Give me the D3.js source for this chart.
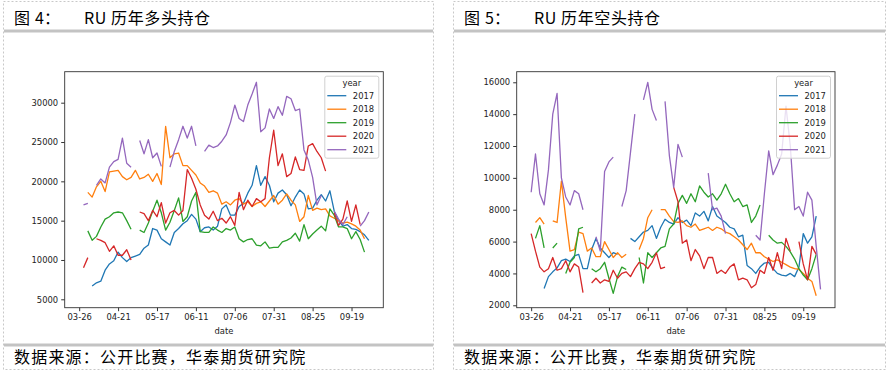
<!DOCTYPE html>
<html>
<head>
<meta charset="utf-8">
<script src="https://cdn.jsdelivr.net/npm/d3@7"></script>
<style>
  body { margin: 0; background: #fff; }
  text { font-family: "DejaVu Sans", sans-serif; }
  .cn { font-family: "Noto Sans CJK SC", sans-serif; }
</style>
</head>
<body>
<div id="viz"></div>
<script>
// x axis: trading-day categories, one sampled value every 2 categories
var tickLabels = ["03-26", "04-21", "05-17", "06-11", "07-06", "07-31", "08-25", "09-19"];
var tickIndex = [0, 18, 36, 54, 72, 90, 108, 126];
var step = 2;
var years = ["2017", "2018", "2019", "2020", "2021"];

// long positions (figure 4)
var longTicks = [5000, 10000, 15000, 20000, 25000, 30000];
var long2017 = [null,null,null,6700,7100,7300,8700,9500,9900,11000,
  10300,9800,10300,10500,10700,11500,11900,14000,13800,12700,
  12300,11900,13500,14000,14600,15000,15800,15200,13600,14100,
  14200,13800,14300,16500,17000,15700,15700,16800,17200,18500,
  19500,22000,19500,20600,19500,17400,18500,18900,18300,16900,
  18000,18900,18400,16500,16600,17600,18300,17500,18800,16200,
  15000,14300,14500,14000,13900,13600,13200,12500];
var long2018 = [null,null,18600,18000,19300,20000,18700,21200,21300,21400,
  20600,20200,20500,21400,20300,20500,20900,20000,21000,19600,
  27000,23000,23500,23600,22000,22000,21400,20800,19800,19400,
  18600,18800,18500,17100,17400,17000,17600,17800,17100,17400,
  16800,17200,17400,16800,17500,18200,17100,17600,18400,17600,
  17000,14900,15500,18200,16300,16600,16400,16500,15600,15300,
  15000,14700,14800,14600,14300,13800,12700,null];
var long2019 = [null,null,13700,12500,13000,14200,15200,15500,16000,16100,
  16000,15000,13900,null,13800,13500,14700,16200,17600,16000,
  13800,14800,16300,17900,14900,15500,17500,18600,13600,13500,
  13500,14200,13800,13500,14000,13800,14200,12700,12300,12600,
  12700,11900,11800,12300,11500,11600,11600,12300,12500,12800,
  13400,12400,14500,12700,13300,13800,14300,13700,16500,15700,
  14200,14200,14000,12700,13600,12600,11000,null];
var long2020 = [null,9000,10300,null,12700,12500,12200,11100,11800,10600,
  10600,11300,10000,null,16100,15900,15000,16300,15500,17300,
  14700,16000,16300,15700,16300,21500,20400,19000,17000,15700,
  15200,16200,15000,15300,14700,15500,14400,18600,16400,17600,
  16800,17800,17400,17800,23000,26500,22000,23500,20600,21000,
  23100,21500,21400,24500,24800,23800,23000,21300,null,16000,
  14400,15200,17500,14900,17000,14500,null,null];
var long2021 = [null,17000,17200,null,19500,20300,19800,21800,22500,22800,
  25500,22300,21800,null,25200,23500,25300,23000,23600,21900,
  null,21800,23800,25300,27000,25500,27000,24500,null,23800,
  24600,24300,24500,25100,25900,27500,29700,28000,27600,29700,
  31100,32600,26300,26800,29200,28000,29500,28400,30800,30500,
  29000,29200,24000,22700,20500,17000,18200,null,null,16200,
  15200,14500,15500,null,null,14300,15000,16100];

// short positions (figure 5)
var shortTicks = [2000, 4000, 6000, 8000, 10000, 12000, 14000, 16000];
var short2017 = [null,null,null,3050,3800,4100,4350,4800,4900,4750,
  5100,5200,4300,4300,5500,6200,5600,5300,5000,5300,
  5200,null,null,6200,6000,6300,6600,6700,7000,6200,
  6900,7400,7200,7100,7500,7200,7350,7000,7800,7600,
  7900,7300,8200,7600,7400,7200,6900,6800,6300,6400,
  4500,4300,4000,4400,4650,4700,4300,4000,3900,3850,
  4000,3800,4400,6500,5900,6300,7600,null];
var short2018 = [null,7200,7500,7100,null,7300,7200,9800,7500,5400,
  5500,6600,6500,5400,5600,5050,5050,6000,5500,5000,
  5300,5000,5200,null,null,5500,6200,7500,8000,null,
  8000,8000,7600,7250,7200,7300,7000,6900,7100,6700,
  6800,6900,6700,6900,6800,6600,6500,6300,6100,5800,
  5500,5900,5300,5300,5050,4900,4750,4850,4700,4550,
  4400,4300,4250,4000,3700,3500,2600,null];
var short2019 = [null,6200,7000,5600,null,5600,5900,null,4000,4700,
  5000,6800,6900,null,4300,4100,4300,4700,3700,2750,
  3800,4400,4250,null,null,5000,3400,5300,5000,5300,
  5600,5700,6800,7100,8400,8900,8400,9000,8500,9500,
  9100,8800,9000,8600,9000,9600,9000,8500,8700,8200,
  8300,7200,7600,8300,null,6400,6100,5900,5950,5700,
  5350,4900,4300,3900,3600,4300,5200,null];
var short2020 = [6500,5400,4400,4100,4300,5000,4200,4300,4800,4100,
  4600,4400,2800,null,3400,3700,3400,3600,3500,4200,
  3700,4000,4100,3800,4300,4700,4600,4300,4700,5300,
  4300,4400,null,9400,8500,5900,6100,4800,5500,5100,
  4300,5000,5000,4000,4200,4000,4400,4600,3600,3700,
  3600,3100,3300,4200,4000,5000,4200,5300,4300,6200,
  5400,null,6000,4600,3600,5700,5200,null];
var short2021 = [9100,11500,9000,8300,10500,14000,15300,10000,8800,8300,
  9200,9000,8000,null,null,6300,5400,10400,11000,11300,
  null,8200,9200,11600,14000,null,14900,16000,14300,13600,
  null,14800,11400,9400,12100,11300,null,null,null,null,
  null,10300,8000,8100,7600,6500,null,null,null,null,
  null,null,6400,6100,9000,11700,10200,10800,11500,14500,
  12000,8000,8200,7600,9100,8600,5700,3000];

var colors = ["#1f77b4", "#ff7f0e", "#2ca02c", "#d62728", "#9467bd"];

var svg = d3.select("#viz")
  .append("svg")
  .attr("width", 889)
  .attr("height", 373);

// report-style cell around each figure
function drawCell(x0, x1, num, title) {
  svg.append("rect")
    .attr("x", x0 + 0.5).attr("y", 1.5)
    .attr("width", x1 - x0).attr("height", 368)
    .attr("fill", "none")
    .attr("stroke", "#c8c8c8")
    .attr("stroke-dasharray", "2,2");
  svg.append("rect")
    .attr("x", x0 + 1).attr("y", 29.5)
    .attr("width", x1 - x0 - 1).attr("height", 3)
    .attr("fill", "#c3c3c3");
  svg.append("rect")
    .attr("x", x0 + 1).attr("y", 343.5)
    .attr("width", x1 - x0 - 1).attr("height", 3)
    .attr("fill", "#c3c3c3");
  svg.append("text").attr("class", "cn")
    .attr("x", x0 + 11).attr("y", 23.5)
    .style("font-size", "16px")
    .text("图");
  svg.append("text").attr("class", "cn")
    .attr("x", x0 + 32).attr("y", 23.5)
    .style("font-size", "16px")
    .text(num + "：");
  svg.append("text").attr("class", "cn")
    .attr("x", x0 + 81).attr("y", 23.5)
    .style("font-size", "16px")
    .style("letter-spacing", "0.6px")
    .text(title);
  svg.append("text").attr("class", "cn")
    .attr("x", x0 + 11).attr("y", 362.5)
    .style("font-size", "16px")
    .style("letter-spacing", "1.2px")
    .text("数据来源：公开比赛，华泰期货研究院");
}

function drawPanel(box, yDomain, yTicks, series) {
  var x = d3.scaleLinear()
    .domain([-6.7, 140.7])
    .range([box.left, box.right]);
  var y = d3.scaleLinear()
    .domain(yDomain)
    .range([box.bottom, box.top]);

  var xAxis = svg.append("g")
    .attr("transform", "translate(0," + box.bottom + ")")
    .call(d3.axisBottom(x)
      .tickValues(tickIndex)
      .tickFormat(function(d, i) { return tickLabels[i]; })
      .tickSize(3.5).tickSizeOuter(0).tickPadding(3));
  var yAxis = svg.append("g")
    .attr("transform", "translate(" + box.left + ",0)")
    .call(d3.axisLeft(y)
      .tickValues(yTicks)
      .tickFormat(d3.format("d"))
      .tickSize(3.5).tickSizeOuter(0).tickPadding(3));
  [xAxis, yAxis].forEach(function(a) {
    a.select(".domain").remove();
    a.selectAll("line").attr("stroke", "#333");
    a.selectAll("text").attr("fill", "#222").style("font-size", "8.4px");
  });

  svg.append("text")
    .attr("x", (box.left + box.right) / 2)
    .attr("y", 333.5)
    .attr("text-anchor", "middle")
    .attr("fill", "#222")
    .style("font-size", "8.4px")
    .text("date");

  var line = d3.line()
    .defined(function(d) { return d !== null; })
    .x(function(d, i) { return x(i * step); })
    .y(function(d) { return y(d); });

  series.forEach(function(s, k) {
    svg.append("path").datum(s)
      .attr("fill", "none")
      .attr("stroke", colors[k])
      .attr("stroke-width", 1.3)
      .attr("stroke-linejoin", "round")
      .attr("d", line);
  });

  svg.append("rect")
    .attr("x", box.left).attr("y", box.top)
    .attr("width", box.right - box.left)
    .attr("height", box.bottom - box.top)
    .attr("fill", "none")
    .attr("stroke", "#333")
    .attr("stroke-width", 0.9);

  // legend
  var lx = box.right - 59, ly = box.top + 4;
  var lg = svg.append("g").attr("transform", "translate(" + lx + "," + ly + ")");
  lg.append("rect")
    .attr("x", 0.5).attr("y", 0.5)
    .attr("width", 54).attr("height", 82)
    .attr("rx", 2)
    .attr("fill", "#fff").attr("fill-opacity", 0.8)
    .attr("stroke", "#d0d0d0");
  lg.append("text")
    .attr("x", 27.5).attr("y", 10.5)
    .attr("text-anchor", "middle")
    .attr("fill", "#222")
    .style("font-size", "8.4px")
    .text("year");
  years.forEach(function(yr, k) {
    var cy = 20 + k * 13.5;
    lg.append("line")
      .attr("x1", 3).attr("x2", 22)
      .attr("y1", cy).attr("y2", cy)
      .attr("stroke", colors[k])
      .attr("stroke-width", 1.3);
    lg.append("text")
      .attr("x", 28.5).attr("y", cy + 3)
      .attr("fill", "#222")
      .style("font-size", "8.4px")
      .text(yr);
  });
}

drawCell(3, 433, "4", "RU 历年多头持仓");
drawCell(453, 885, "5", "RU 历年空头持仓");

drawPanel({left: 64.7, right: 383.3, top: 71.7, bottom: 307.7},
  [3932, 33942], longTicks,
  [long2017, long2018, long2019, long2020, long2021]);
drawPanel({left: 516.7, right: 835, top: 71.7, bottom: 307.7},
  [1849, 16665], shortTicks,
  [short2017, short2018, short2019, short2020, short2021]);
</script>
</body>
</html>
